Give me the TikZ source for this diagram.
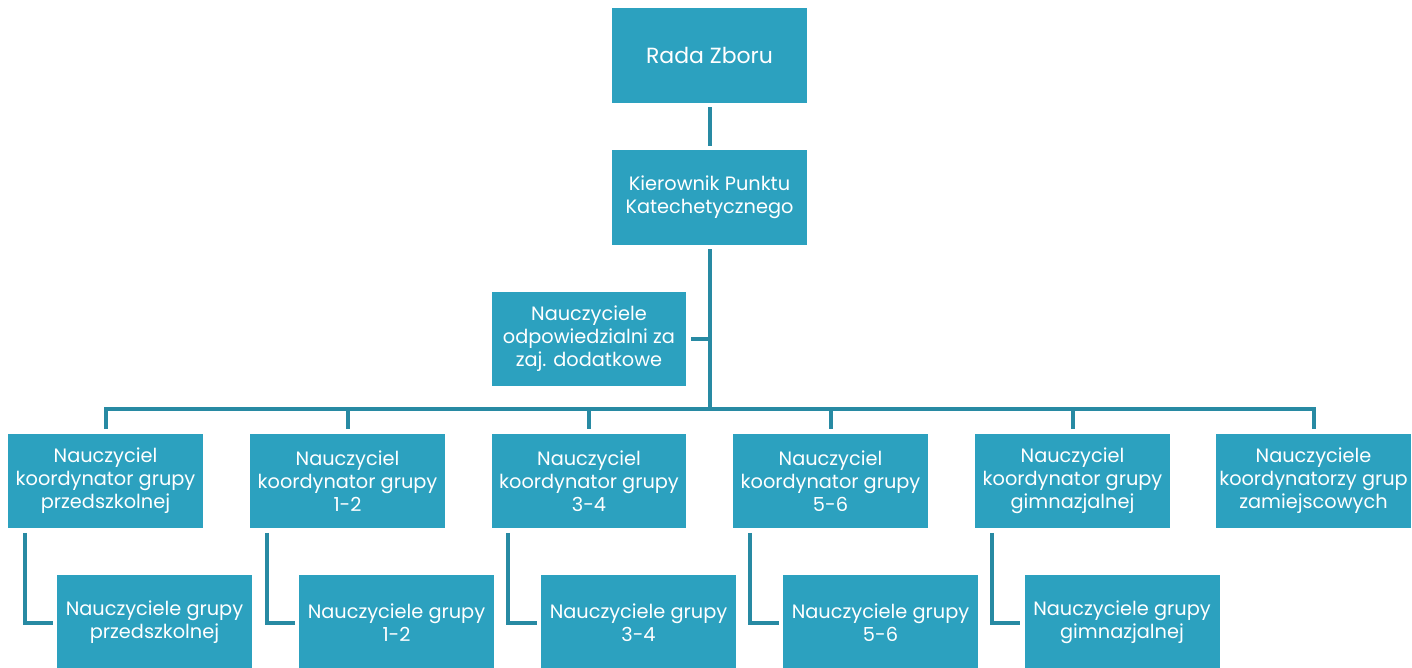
\documentclass[tikz,border=0pt]{standalone}
\usepackage{fontspec}
\setmainfont{Poppins}
\definecolor{boxblue}{RGB}{44,161,191}
\definecolor{lineblue}{RGB}{40,138,163}

\begin{document}
\begin{tikzpicture}[x=0.02cm,y=-0.02cm]
\tikzstyle{every node}=[rectangle,fill=boxblue,text=white,minimum width=3.9cm,minimum height=1.9cm,align=center,inner sep=1pt,font=\fontsize{11}{13.1}\selectfont]
\tikzstyle{conn}=[draw=lineblue,line width=0.08cm]
\clip (0,0) rectangle (1412,668);

\node (rada) at (709.5,55.5) {\fontsize{12.5}{15}\selectfont Rada Zboru};
\node (kier) at (709.5,197.5) {Kierownik Punktu\\Katechetycznego};
\node (odp) at (589,339) {Nauczyciele\\odpowiedzialni za\\zaj. dodatkowe};

\node (k1) at (105.5,481) {Nauczyciel\\koordynator grupy\\przedszkolnej};
\node (k2) at (347.5,481) {Nauczyciel\\koordynator grupy\\1-2};
\node (k3) at (589,481) {Nauczyciel\\koordynator grupy\\3-4};
\node (k4) at (830.5,481) {Nauczyciel\\koordynator grupy\\5-6};
\node (k5) at (1072.5,481) {Nauczyciel\\koordynator grupy\\gimnazjalnej};
\node (k6) at (1313.5,481) {Nauczyciele\\koordynatorzy grup\\zamiejscowych};

\node (c1) at (154.5,622.5) {Nauczyciele grupy\\przedszkolnej};
\node (c2) at (396.5,622.5) {Nauczyciele grupy\\1-2};
\node (c3) at (638.5,622.5) {Nauczyciele grupy\\3-4};
\node (c4) at (880.5,622.5) {Nauczyciele grupy\\5-6};
\node (c5) at (1122,622.5) {Nauczyciele grupy\\gimnazjalnej};

\coordinate (bus) at (709.5,409);

% connectors
\draw[conn,shorten <=0.08cm,shorten >=0.08cm] (rada) -- (kier);
\draw[conn,shorten <=0.08cm] (kier) -- (bus);
\draw[conn,shorten >=0.08cm] (kier.south |- odp.east) -- (odp.east);
\draw[conn,shorten <=0.08cm,shorten >=0.08cm] (k1.north) |- (bus) -| (k6.north);
\foreach \k in {k2,k3,k4,k5}
  \draw[conn,shorten >=0.08cm] (\k.north |- bus) -- (\k.north);
\foreach \i in {1,...,5}
  \draw[conn,shorten <=0.08cm,shorten >=0.08cm] ([xshift=0.34cm]k\i.south west) |- (c\i.west);

\end{tikzpicture}
\end{document}
